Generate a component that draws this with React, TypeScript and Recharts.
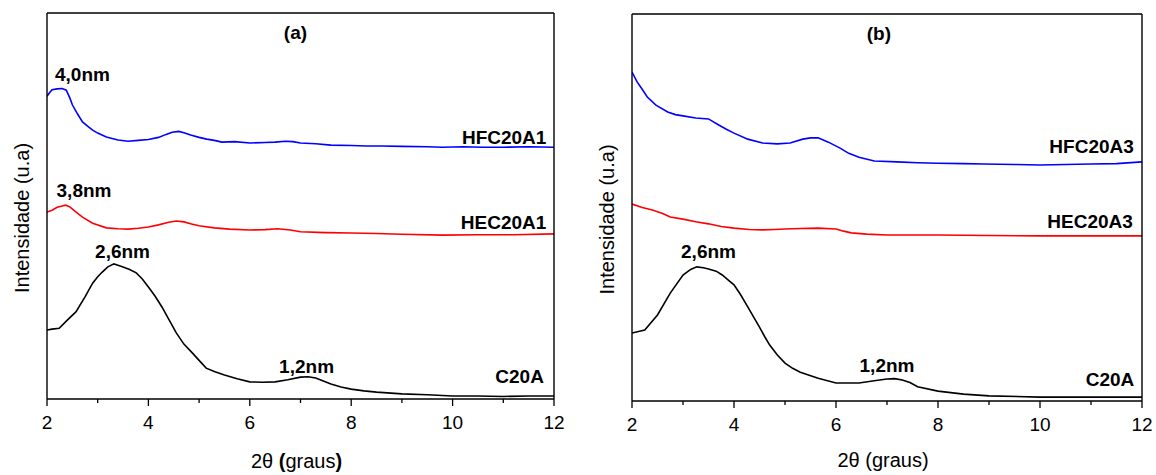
import React from 'react';
import { LineChart, Line, XAxis, YAxis, ReferenceDot } from 'recharts';

const FONT = '"Liberation Sans", Arial, Helvetica, sans-serif';

const xTicks = [2, 3, 4, 5, 6, 7, 8, 9, 10, 11, 12];
const yTicks = [0, 1, 2, 3, 4, 5, 6, 7, 8, 9];

// (a) HFC20A1
const thetaHFC1 = [2.0, 2.05, 2.1, 2.2, 2.3, 2.38, 2.45, 2.5, 2.6, 2.7, 2.8, 2.9, 3.0, 3.17, 3.4, 3.6, 3.8, 4.0, 4.2, 4.35, 4.47, 4.6, 4.7, 4.85, 5.0, 5.15, 5.3, 5.45, 5.7, 6.0, 6.3, 6.5, 6.7, 6.85, 7.0, 7.3, 7.6, 8.0, 8.3, 8.6, 9.0, 9.5, 9.8, 10.2, 10.6, 11.0, 11.5, 12.0];
const intHFC1 = [7.06, 7.14, 7.21, 7.23, 7.24, 7.2, 7.02, 6.86, 6.65, 6.46, 6.36, 6.27, 6.2, 6.11, 6.04, 6.01, 6.03, 6.05, 6.1, 6.17, 6.22, 6.24, 6.21, 6.15, 6.1, 6.06, 6.03, 5.99, 6.0, 5.97, 5.98, 5.99, 6.01, 6.0, 5.97, 5.95, 5.92, 5.91, 5.9, 5.9, 5.89, 5.88, 5.87, 5.88, 5.87, 5.87, 5.88, 5.87];

// (a) HEC20A1
const thetaHEC1 = [2.0, 2.1, 2.2, 2.3, 2.37, 2.45, 2.55, 2.7, 2.9, 3.17, 3.4, 3.6, 3.8, 4.0, 4.2, 4.4, 4.55, 4.7, 4.85, 5.0, 5.3, 5.6, 6.0, 6.3, 6.55, 6.8, 7.0, 7.5, 8.0, 8.5, 9.0, 9.8, 10.5, 11.2, 12.0];
const intHEC1 = [4.36, 4.4, 4.47, 4.5, 4.52, 4.48, 4.38, 4.24, 4.1, 3.99, 3.97, 3.96, 3.98, 4.01, 4.06, 4.12, 4.15, 4.13, 4.08, 4.04, 3.99, 3.96, 3.94, 3.95, 3.97, 3.94, 3.9, 3.88, 3.87, 3.86, 3.84, 3.82, 3.83, 3.83, 3.85];

// (a) C20A
const thetaC20A_a = [2.0, 2.1, 2.24, 2.4, 2.57, 2.75, 2.9, 3.0, 3.09, 3.2, 3.32, 3.4, 3.5, 3.63, 3.76, 3.88, 4.0, 4.13, 4.27, 4.4, 4.55, 4.7, 4.87, 5.0, 5.14, 5.3, 5.5, 5.75, 6.0, 6.25, 6.5, 6.75, 7.0, 7.15, 7.3, 7.45, 7.6, 7.8, 8.0, 8.25, 8.5, 9.0, 9.5, 10.0, 10.5, 11.0, 11.5, 12.0];
const intC20A_a = [1.61, 1.63, 1.65, 1.84, 2.03, 2.38, 2.7, 2.85, 2.96, 3.08, 3.15, 3.12, 3.08, 3.02, 2.94, 2.8, 2.61, 2.4, 2.14, 1.86, 1.54, 1.28, 1.07, 0.9, 0.72, 0.64, 0.56, 0.47, 0.4, 0.39, 0.4, 0.45, 0.51, 0.52, 0.49, 0.42, 0.35, 0.28, 0.23, 0.19, 0.16, 0.12, 0.1, 0.07, 0.07, 0.06, 0.07, 0.07];

// (b) HFC20A3
const thetaHFC3 = [2.0, 2.1, 2.2, 2.3, 2.47, 2.7, 2.85, 3.0, 3.25, 3.5, 3.7, 3.85, 4.0, 4.27, 4.56, 4.85, 5.1, 5.35, 5.5, 5.65, 5.85, 6.08, 6.25, 6.45, 6.75, 7.2, 7.6, 8.0, 8.5, 8.9, 9.5, 10.0, 10.5, 11.0, 11.5, 12.0];
const intHFC3 = [7.65, 7.42, 7.25, 7.07, 6.88, 6.72, 6.66, 6.63, 6.58, 6.56, 6.42, 6.32, 6.23, 6.09, 6.0, 5.98, 6.0, 6.09, 6.12, 6.12, 6.02, 5.88, 5.76, 5.67, 5.58, 5.56, 5.54, 5.53, 5.52, 5.51, 5.5, 5.49, 5.5, 5.51, 5.52, 5.56];

// (b) HEC20A3
const thetaHEC3 = [2.0, 2.2, 2.4, 2.6, 2.75, 3.0, 3.25, 3.5, 3.75, 4.0, 4.3, 4.56, 4.8, 5.0, 5.3, 5.65, 6.0, 6.15, 6.3, 6.6, 7.0, 7.5, 8.0, 9.0, 10.0, 11.0, 12.0];
const intHEC3 = [4.58, 4.5, 4.44, 4.36, 4.28, 4.23, 4.17, 4.12, 4.06, 4.02, 3.99, 3.98, 3.99, 4.0, 4.01, 4.02, 4.0, 3.95, 3.91, 3.88, 3.86, 3.86, 3.86, 3.85, 3.84, 3.84, 3.84];

// (b) C20A
const thetaC20A_b = [2.0, 2.25, 2.5, 2.75, 3.0, 3.15, 3.27, 3.4, 3.5, 3.65, 3.77, 3.9, 4.0, 4.13, 4.27, 4.4, 4.5, 4.6, 4.7, 4.85, 5.0, 5.15, 5.3, 5.65, 6.0, 6.45, 6.75, 7.0, 7.15, 7.3, 7.45, 7.6, 8.0, 8.5, 9.0, 10.0, 11.0, 12.0];
const intC20A_b = [1.58, 1.65, 2.0, 2.51, 2.93, 3.06, 3.12, 3.1, 3.07, 3.02, 2.93, 2.8, 2.7, 2.47, 2.19, 1.92, 1.72, 1.5, 1.3, 1.07, 0.88, 0.76, 0.67, 0.53, 0.42, 0.42, 0.47, 0.51, 0.52, 0.49, 0.43, 0.33, 0.23, 0.16, 0.12, 0.09, 0.09, 0.09];

type Note = { x: number; y: number; text: string; anchor: 'start' | 'middle' | 'end' };

const notesA: Note[] = [
    { x: 6.9, y: 8.39, text: '(a)', anchor: 'middle' },
    { x: 2.7, y: 7.41, text: '4,0nm', anchor: 'middle' },
    { x: 11.85, y: 5.94, text: 'HFC20A1', anchor: 'end' },
    { x: 2.73, y: 4.71, text: '3,8nm', anchor: 'middle' },
    { x: 11.85, y: 3.96, text: 'HEC20A1', anchor: 'end' },
    { x: 3.49, y: 3.29, text: '2,6nm', anchor: 'middle' },
    { x: 7.12, y: 0.61, text: '1,2nm', anchor: 'middle' },
    { x: 11.8, y: 0.37, text: 'C20A', anchor: 'end' },
];

const notesB: Note[] = [
    { x: 6.84, y: 8.4, text: '(b)', anchor: 'middle' },
    { x: 11.84, y: 5.77, text: 'HFC20A3', anchor: 'end' },
    { x: 11.82, y: 4.02, text: 'HEC20A3', anchor: 'end' },
    { x: 3.5, y: 3.33, text: '2,6nm', anchor: 'middle' },
    { x: 7.0, y: 0.67, text: '1,2nm', anchor: 'middle' },
    { x: 11.85, y: 0.35, text: 'C20A', anchor: 'end' },
];

const zip = (xs: number[], ys: number[]) => xs.map((x, i) => ({ x, y: ys[i] }));

const seriesA = [
    { name: 'HFC20A1', color: '#0000ff', data: zip(thetaHFC1, intHFC1) },
    { name: 'HEC20A1', color: '#ff0000', data: zip(thetaHEC1, intHEC1) },
    { name: 'C20A', color: '#000000', data: zip(thetaC20A_a, intC20A_a) },
];

const seriesB = [
    { name: 'HFC20A3', color: '#0000ff', data: zip(thetaHFC3, intHFC3) },
    { name: 'HEC20A3', color: '#ff0000', data: zip(thetaHEC3, intHEC3) },
    { name: 'C20A', color: '#000000', data: zip(thetaC20A_b, intC20A_b) },
];

const AXIS = { stroke: '#000', strokeWidth: 1.4 };

function XTick(props: any) {
    const { x, y, payload } = props;
    const major = payload.value % 2 === 0;
    return (
        <g>
            <line x1={x} x2={x} y1={y} y2={y + (major ? 7 : 4)} stroke="#000" strokeWidth={1.3} />
            {major && (
                <text x={x} y={y + 30} textAnchor="middle" fontSize={19} fontFamily={FONT} fill="#000">
                    {payload.value}
                </text>
            )}
        </g>
    );
}

interface PanelProps {
    left: number;
    width: number;
    margin: { top: number; right: number; bottom: number; left: number };
    series: { name: string; color: string; data: { x: number; y: number }[] }[];
    notes: Note[];
    boldParens: boolean;
    titleDy: number;
}

function Panel({ left, width, margin, series, notes, boldParens, titleDy }: PanelProps) {
    const xTitle = (p: any) => {
        const vb = p.viewBox;
        const cx = vb.x + vb.width / 2 - 4;
        const w = boldParens ? 'bold' : 'normal';
        return (
            <text x={cx} y={vb.y + titleDy} textAnchor="middle" fontSize={20} fontFamily={FONT} fill="#000">
                <tspan>2θ </tspan>
                <tspan fontWeight={w}>(</tspan>
                <tspan>graus</tspan>
                <tspan fontWeight={w}>)</tspan>
            </text>
        );
    };
    const yTitle = (p: any) => {
        const vb = p.viewBox;
        const tx = vb.x + vb.width - 19;
        const ty = vb.y + vb.height / 2 + 12;
        return (
            <text x={tx} y={ty} transform={`rotate(-90 ${tx} ${ty})`} textAnchor="middle" fontSize={20} fontFamily={FONT} fill="#000">
                Intensidade (u.a)
            </text>
        );
    };
    return (
        <div style={{ position: 'absolute', left, top: 0 }}>
            <LineChart width={width} height={475} margin={margin}>
                <XAxis
                    xAxisId={0}
                    dataKey="x"
                    type="number"
                    domain={[2, 12]}
                    ticks={xTicks}
                    interval={0}
                    tick={<XTick />}
                    tickLine={false}
                    tickSize={0}
                    tickMargin={0}
                    height={40}
                    axisLine={AXIS}
                    allowDataOverflow
                    label={{ content: xTitle }}
                />
                <XAxis
                    xAxisId="top"
                    orientation="top"
                    dataKey="x"
                    type="number"
                    domain={[2, 12]}
                    ticks={xTicks}
                    interval={0}
                    tick={false}
                    tickSize={3}
                    height={1}
                    axisLine={AXIS}
                    tickLine={{ stroke: '#000', strokeWidth: 1 }}
                />
                <YAxis
                    yAxisId={0}
                    type="number"
                    domain={[0, 9]}
                    ticks={yTicks}
                    interval={0}
                    tick={false}
                    width={1}
                    mirror
                    tickSize={4}
                    axisLine={AXIS}
                    tickLine={{ stroke: '#000', strokeWidth: 1 }}
                    allowDataOverflow
                    label={{ content: yTitle }}
                />
                <YAxis
                    yAxisId="right"
                    orientation="right"
                    type="number"
                    domain={[0, 9]}
                    ticks={yTicks}
                    interval={0}
                    tick={false}
                    width={1}
                    tickSize={3}
                    axisLine={AXIS}
                    tickLine={{ stroke: '#000', strokeWidth: 1 }}
                />
                {series.map((s) => (
                    <Line
                        key={s.name}
                        data={s.data}
                        dataKey="y"
                        xAxisId={0}
                        yAxisId={0}
                        type="linear"
                        stroke={s.color}
                        strokeWidth={1.6}
                        dot={false}
                        activeDot={false}
                        isAnimationActive={false}
                    />
                ))}
                {/* invisible series so the top and right axes are drawn */}
                <Line
                    data={series[2].data}
                    dataKey="y"
                    xAxisId="top"
                    yAxisId="right"
                    stroke="none"
                    dot={false}
                    activeDot={false}
                    isAnimationActive={false}
                />
                {notes.map((n) => (
                    <ReferenceDot
                        key={n.text + n.x}
                        x={n.x}
                        y={n.y}
                        r={0}
                        xAxisId={0}
                        yAxisId={0}
                        fill="none"
                        stroke="none"
                        ifOverflow="visible"
                        label={{
                            content: (p: any) => (
                                <text
                                    x={p.viewBox.x}
                                    y={p.viewBox.y}
                                    textAnchor={n.anchor}
                                    fontSize={19}
                                    fontWeight="bold"
                                    fontFamily={FONT}
                                    fill="#000"
                                >
                                    {n.text}
                                </text>
                            ),
                        }}
                    />
                ))}
            </LineChart>
        </div>
    );
}

export default function App() {
    return (
        <div style={{ position: 'absolute', left: 0, top: 0, width: 1156, height: 475, background: '#fff' }}>
            <Panel
                left={0}
                width={580}
                margin={{ top: 12, right: 25, bottom: 36, left: 47 }}
                series={seriesA}
                notes={notesA}
                boldParens
                titleDy={69}
            />
            <Panel
                left={580}
                width={576}
                margin={{ top: 13, right: 13, bottom: 34, left: 52 }}
                series={seriesB}
                notes={notesB}
                boldParens={false}
                titleDy={66}
            />
        </div>
    );
}
